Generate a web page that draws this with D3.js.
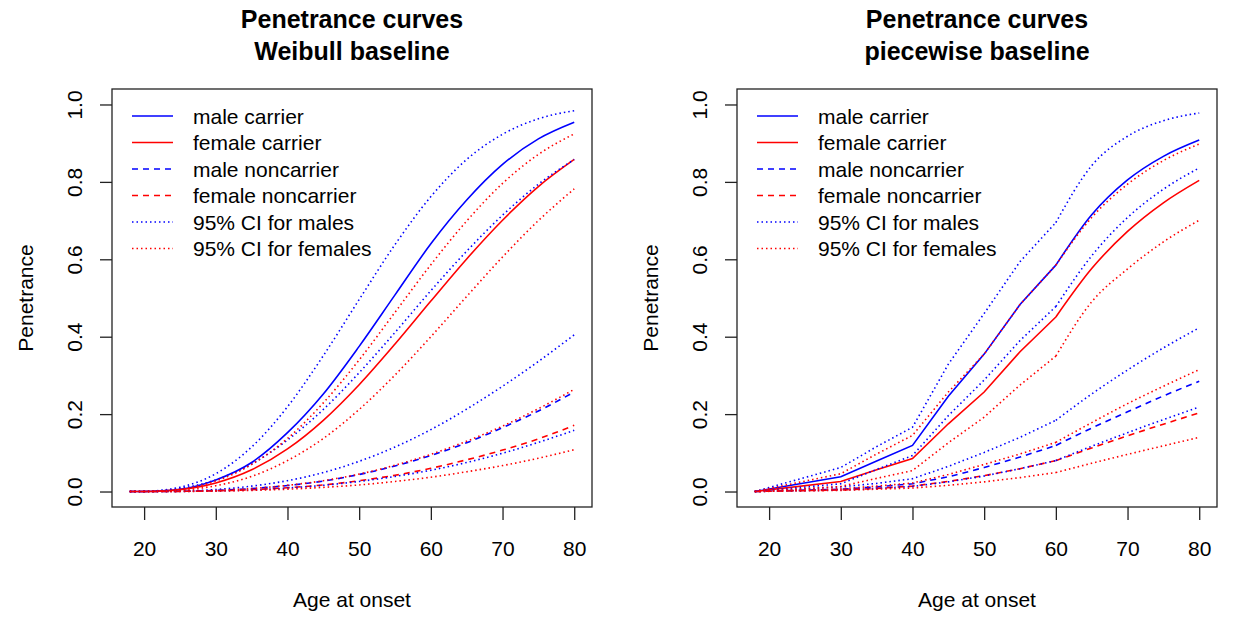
<!DOCTYPE html>
<html>
<head>
  <title>Penetrance curves</title>
  <script src="https://d3js.org/d3.v7.min.js"></script>
  <style>
    body { margin: 0; background: #fff; }
    text { font-family: "Liberation Sans", Arial, Helvetica, sans-serif; fill: #000; }
  </style>
</head>
<body>
<div id="chart"></div>
<script>
// ---- data ----
// Weibull baseline panel (smooth curves)
const wAges = [18, 20, 25, 30, 35, 40, 45, 50, 55, 60, 65, 70, 75, 80];
const wMaleCarrier     = [0, 0.0002, 0.006, 0.030, 0.075, 0.152, 0.252, 0.375, 0.508, 0.640, 0.753, 0.845, 0.911, 0.954];
const wFemaleCarrier   = [0, 0.0002, 0.005, 0.022, 0.056, 0.110, 0.184, 0.276, 0.381, 0.492, 0.601, 0.701, 0.788, 0.858];
const wMaleNon         = [0, 0, 0.0006, 0.0028, 0.0074, 0.0155, 0.027, 0.044, 0.066, 0.093, 0.126, 0.165, 0.208, 0.257];
const wFemaleNon       = [0, 0, 0.0004, 0.0017, 0.0047, 0.0098, 0.017, 0.028, 0.042, 0.060, 0.082, 0.107, 0.136, 0.171];
const wMaleCarrierHi   = [0, 0.0004, 0.011, 0.046, 0.115, 0.219, 0.351, 0.496, 0.638, 0.762, 0.858, 0.923, 0.963, 0.984];
const wMaleCarrierLo   = [0, 0.0003, 0.008, 0.030, 0.071, 0.133, 0.212, 0.307, 0.411, 0.519, 0.621, 0.714, 0.794, 0.858];
const wMaleNonHi       = [0, 0, 0.0012, 0.0052, 0.014, 0.028, 0.049, 0.078, 0.115, 0.160, 0.213, 0.272, 0.336, 0.405];
const wMaleNonLo       = [0, 0, 0.0003, 0.0016, 0.0043, 0.009, 0.016, 0.026, 0.039, 0.055, 0.075, 0.099, 0.127, 0.158];
const wFemaleCarrierHi = [0, 0.0002, 0.006, 0.027, 0.070, 0.137, 0.229, 0.340, 0.463, 0.586, 0.699, 0.796, 0.871, 0.924];
const wFemaleCarrierLo = [0, 0.0001, 0.0033, 0.015, 0.039, 0.080, 0.137, 0.212, 0.301, 0.400, 0.504, 0.606, 0.700, 0.782];
const wFemaleNonHi     = [0, 0, 0.0006, 0.0028, 0.0077, 0.016, 0.028, 0.045, 0.068, 0.096, 0.130, 0.169, 0.214, 0.264];
const wFemaleNonLo     = [0, 0, 0.0002, 0.0011, 0.0029, 0.006, 0.0107, 0.017, 0.026, 0.037, 0.051, 0.067, 0.086, 0.108];

// piecewise baseline panel (straight pieces up to 60, smooth after)
const pAges = [18, 30, 35, 40, 45, 50, 55, 60, 65, 70, 75, 80];
const pMaleCarrier     = [0, 0.038, 0.079, 0.119, 0.246, 0.355, 0.483, 0.585, 0.715, 0.805, 0.866, 0.908];
const pFemaleCarrier   = [0, 0.026, 0.056, 0.085, 0.175, 0.257, 0.361, 0.451, 0.576, 0.672, 0.746, 0.804];
const pMaleNon         = [0, 0.006, 0.012, 0.020, 0.038, 0.062, 0.089, 0.119, 0.164, 0.206, 0.247, 0.285];
const pFemaleNon       = [0, 0.004, 0.008, 0.014, 0.026, 0.041, 0.059, 0.080, 0.1125, 0.144, 0.174, 0.203];
const pMaleCarrierHi   = [0, 0.062, 0.116, 0.166, 0.329, 0.460, 0.594, 0.695, 0.842, 0.918, 0.958, 0.978];
const pMaleCarrierLo   = [0, 0.020, 0.057, 0.093, 0.196, 0.288, 0.390, 0.478, 0.609, 0.708, 0.781, 0.836];
const pMaleNonHi       = [0, 0.012, 0.021, 0.033, 0.065, 0.101, 0.140, 0.184, 0.252, 0.314, 0.371, 0.423];
const pMaleNonLo       = [0, 0.004, 0.008, 0.013, 0.025, 0.040, 0.059, 0.080, 0.117, 0.152, 0.186, 0.218];
const pFemaleCarrierHi = [0, 0.046, 0.097, 0.145, 0.257, 0.355, 0.483, 0.585, 0.708, 0.794, 0.855, 0.898];
const pFemaleCarrierLo = [0, 0.013, 0.034, 0.054, 0.126, 0.192, 0.275, 0.350, 0.490, 0.575, 0.645, 0.701];
const pFemaleNonHi     = [0, 0.007, 0.014, 0.022, 0.044, 0.070, 0.097, 0.127, 0.178, 0.227, 0.272, 0.315];
const pFemaleNonLo     = [0, 0.003, 0.006, 0.009, 0.016, 0.025, 0.036, 0.049, 0.073, 0.096, 0.118, 0.140];

const xTicks = [20, 30, 40, 50, 60, 70, 80];
const yTicks = [0, 0.2, 0.4, 0.6, 0.8, 1.0];
const legendLabels = ["male carrier", "female carrier", "male noncarrier", "female noncarrier",
                      "95% CI for males", "95% CI for females"];

// ---- layout ----
const width = 1245, height = 618;
const panelOffset = 625;
const box = { left: 112, right: 592, top: 89, bottom: 507 };

const DASH = "6,5", DOT = "1.5,3";
const styles = {
  solid: null, dashed: DASH, dotted: DOT
};

const svg = d3.select("#chart").append("svg")
  .attr("width", width)
  .attr("height", height);

function drawPanel(offset, subtitle, ages, series, piecewise) {
  const g = svg.append("g").attr("transform", `translate(${offset},0)`);

  const xScale = d3.scaleLinear().domain([15.52, 82.48]).range([box.left, box.right]);
  const yScale = d3.scaleLinear().domain([-0.04, 1.04]).range([box.bottom, box.top]);
  const cx = (box.left + box.right) / 2;

  // title
  g.append("text").attr("x", cx).attr("y", 28).attr("text-anchor", "middle")
    .style("font-size", "25px").style("font-weight", "bold").text("Penetrance curves");
  g.append("text").attr("x", cx).attr("y", 60).attr("text-anchor", "middle")
    .style("font-size", "25px").style("font-weight", "bold").text(subtitle);

  // x axis
  const xAxis = d3.axisBottom(xScale).tickValues(xTicks).tickSize(13).tickSizeOuter(0);
  const xg = g.append("g").attr("transform", `translate(0,${box.bottom})`).call(xAxis);
  xg.select(".domain").remove();
  xg.selectAll("line").attr("stroke", "#222").attr("stroke-width", 1.3);
  xg.selectAll("text").attr("y", 49).attr("dy", 0)
    .style("font-size", "21px").style("font-family", "Liberation Sans, Arial, sans-serif").attr("fill", "#000");

  // y axis, labels turned like R's las = 0
  const yAxis = d3.axisLeft(yScale).tickValues(yTicks).tickSize(12).tickFormat(d3.format(".1f"));
  const yg = g.append("g").attr("transform", `translate(${box.left},0)`).call(yAxis);
  yg.select(".domain").remove();
  yg.selectAll("line").attr("stroke", "#222").attr("stroke-width", 1.3);
  yg.selectAll("text")
    .attr("x", 0).attr("y", -30).attr("dy", 0)
    .attr("text-anchor", "middle")
    .attr("transform", "rotate(-90)")
    .style("font-size", "21px").style("font-family", "Liberation Sans, Arial, sans-serif").attr("fill", "#000");

  // axis titles
  g.append("text").attr("x", cx).attr("y", 607).attr("text-anchor", "middle")
    .style("font-size", "21px").text("Age at onset");
  g.append("text").attr("transform", `translate(33,${(box.top + box.bottom) / 2}) rotate(-90)`)
    .attr("text-anchor", "middle").style("font-size", "21px").text("Penetrance");

  // curves
  const smooth = d3.line().x(d => xScale(d[0])).y(d => yScale(d[1])).curve(d3.curveMonotoneX);
  const straight = d3.line().x(d => xScale(d[0])).y(d => yScale(d[1]));

  series.forEach(s => {
    const pts = ages.map((a, i) => [a, s.values[i]]);
    let pathD;
    if (piecewise) {
      const before = pts.filter(p => p[0] <= 60);
      const after = pts.filter(p => p[0] >= 60);
      pathD = straight(before) + smooth(after);
    } else {
      pathD = smooth(pts);
    }
    g.append("path")
      .attr("d", pathD)
      .attr("fill", "none")
      .attr("stroke", s.color)
      .attr("stroke-width", 1.6)
      .attr("stroke-dasharray", styles[s.type]);
  });

  // plot box
  g.append("rect")
    .attr("x", box.left).attr("y", box.top)
    .attr("width", box.right - box.left).attr("height", box.bottom - box.top)
    .attr("fill", "none").attr("stroke", "#222").attr("stroke-width", 1.3);

  // legend
  const legendItems = [
    { color: "blue", type: "solid" }, { color: "red", type: "solid" },
    { color: "blue", type: "dashed" }, { color: "red", type: "dashed" },
    { color: "blue", type: "dotted" }, { color: "red", type: "dotted" }
  ];
  const legendY = d3.scalePoint().domain(legendLabels).range([116, 248.5]);
  legendLabels.forEach((lab, i) => {
    const y = legendY(lab);
    g.append("line")
      .attr("x1", 132).attr("x2", 173).attr("y1", y).attr("y2", y)
      .attr("stroke", legendItems[i].color).attr("stroke-width", 1.6)
      .attr("stroke-dasharray", styles[legendItems[i].type]);
    g.append("text").attr("x", 193).attr("y", y + 7.5)
      .style("font-size", "21px").text(lab);
  });
}

function makeSeries(mc, fc, mn, fn, mch, mcl, mnh, mnl, fch, fcl, fnh, fnl) {
  return [
    { values: mc, color: "blue", type: "solid" },
    { values: fc, color: "red", type: "solid" },
    { values: mn, color: "blue", type: "dashed" },
    { values: fn, color: "red", type: "dashed" },
    { values: mch, color: "blue", type: "dotted" },
    { values: mcl, color: "blue", type: "dotted" },
    { values: mnh, color: "blue", type: "dotted" },
    { values: mnl, color: "blue", type: "dotted" },
    { values: fch, color: "red", type: "dotted" },
    { values: fcl, color: "red", type: "dotted" },
    { values: fnh, color: "red", type: "dotted" },
    { values: fnl, color: "red", type: "dotted" }
  ];
}

drawPanel(0, "Weibull baseline", wAges,
  makeSeries(wMaleCarrier, wFemaleCarrier, wMaleNon, wFemaleNon,
             wMaleCarrierHi, wMaleCarrierLo, wMaleNonHi, wMaleNonLo,
             wFemaleCarrierHi, wFemaleCarrierLo, wFemaleNonHi, wFemaleNonLo), false);

drawPanel(panelOffset, "piecewise baseline", pAges,
  makeSeries(pMaleCarrier, pFemaleCarrier, pMaleNon, pFemaleNon,
             pMaleCarrierHi, pMaleCarrierLo, pMaleNonHi, pMaleNonLo,
             pFemaleCarrierHi, pFemaleCarrierLo, pFemaleNonHi, pFemaleNonLo), true);
</script>
</body>
</html>
